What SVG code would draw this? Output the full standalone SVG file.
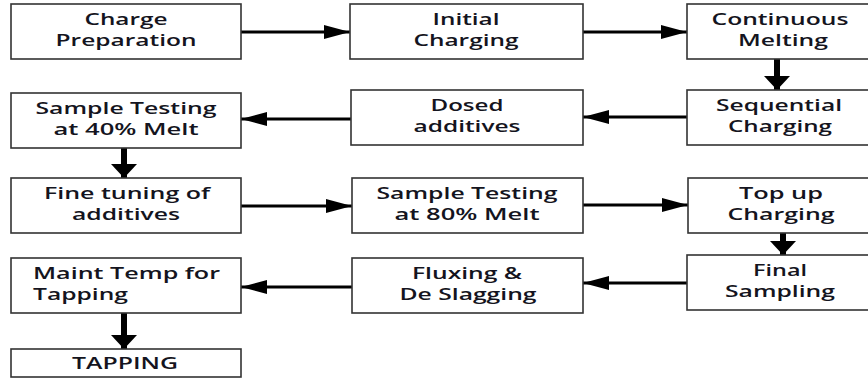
<svg xmlns="http://www.w3.org/2000/svg" width="868" height="383" viewBox="0 0 868 383">
<defs>
<style>
.box{fill:#fff;stroke:#333;stroke-width:1.6}
.t{font-family:"Open Sans","Liberation Sans",sans-serif;font-size:17px;font-weight:600;fill:#141420;text-anchor:middle}
.s{text-anchor:start}
.h{stroke:#000;stroke-width:3;fill:none}
.v{stroke:#000;stroke-width:6;fill:none}
</style>
<marker id="ah" markerUnits="userSpaceOnUse" markerWidth="26" markerHeight="14" refX="26" refY="7" orient="auto">
<path d="M0,0 L26,7 L0,14 Z" fill="#000"/>
</marker>
<marker id="av" markerUnits="userSpaceOnUse" markerWidth="14" markerHeight="26" refX="14" refY="13" orient="auto">
<path d="M0,0 L14,13 L0,26 Z" fill="#000"/>
</marker>
</defs>
<rect width="868" height="383" fill="#fff"/>
<g id="connectors">
<line class="h" x1="241" y1="32" x2="350" y2="32" marker-end="url(#ah)"/>
<line class="h" x1="583" y1="32" x2="687" y2="32" marker-end="url(#ah)"/>
<line class="v" x1="777" y1="59" x2="777" y2="90" marker-end="url(#av)"/>
<line class="h" x1="687" y1="117" x2="583" y2="117" marker-end="url(#ah)"/>
<line class="h" x1="351" y1="119" x2="241" y2="119" marker-end="url(#ah)"/>
<line class="v" x1="124" y1="148" x2="124" y2="178" marker-end="url(#av)"/>
<line class="h" x1="241" y1="206" x2="352" y2="206" marker-end="url(#ah)"/>
<line class="h" x1="583" y1="205" x2="688" y2="205" marker-end="url(#ah)"/>
<line class="v" x1="783" y1="233" x2="783" y2="255" marker-end="url(#av)"/>
<line class="h" x1="687" y1="283" x2="583" y2="283" marker-end="url(#ah)"/>
<line class="h" x1="352" y1="287" x2="241" y2="287" marker-end="url(#ah)"/>
<line class="v" x1="124" y1="313" x2="124" y2="349" marker-end="url(#av)"/>
</g>
<g id="charge-preparation">
<rect class="box" x="11" y="4" width="230" height="55"/>
<text class="t" x="126" y="25" textLength="83" lengthAdjust="spacingAndGlyphs">Charge</text>
<text class="t" x="126" y="46" textLength="141" lengthAdjust="spacingAndGlyphs">Preparation</text>
</g>
<g id="initial-charging">
<rect class="box" x="350" y="4" width="233" height="55"/>
<text class="t" x="466" y="25" textLength="67" lengthAdjust="spacingAndGlyphs">Initial</text>
<text class="t" x="466" y="46" textLength="105" lengthAdjust="spacingAndGlyphs">Charging</text>
</g>
<g id="continuous-melting">
<rect class="box" x="687" y="4" width="186" height="55"/>
<text class="t" x="780" y="25" textLength="137" lengthAdjust="spacingAndGlyphs">Continuous</text>
<text class="t" x="783" y="46" textLength="90" lengthAdjust="spacingAndGlyphs">Melting</text>
</g>
<g id="sequential-charging">
<rect class="box" x="687" y="90" width="186" height="55"/>
<text class="t" x="779" y="111" textLength="126" lengthAdjust="spacingAndGlyphs">Sequential</text>
<text class="t" x="780" y="132" textLength="104" lengthAdjust="spacingAndGlyphs">Charging</text>
</g>
<g id="dosed-additives">
<rect class="box" x="351" y="90" width="232" height="55"/>
<text class="t" x="467" y="111" textLength="73" lengthAdjust="spacingAndGlyphs">Dosed</text>
<text class="t" x="467" y="132" textLength="107" lengthAdjust="spacingAndGlyphs">additives</text>
</g>
<g id="sample-testing-40">
<rect class="box" x="11" y="93" width="230" height="55"/>
<text class="t" x="126" y="114" textLength="181" lengthAdjust="spacingAndGlyphs">Sample Testing</text>
<text class="t" x="126" y="135" textLength="145" lengthAdjust="spacingAndGlyphs">at 40% Melt</text>
</g>
<g id="fine-tuning">
<rect class="box" x="11" y="178" width="230" height="55"/>
<text class="t" x="127" y="199" textLength="166" lengthAdjust="spacingAndGlyphs">Fine tuning of</text>
<text class="t" x="126" y="220" textLength="108" lengthAdjust="spacingAndGlyphs">additives</text>
</g>
<g id="sample-testing-80">
<rect class="box" x="352" y="178" width="231" height="55"/>
<text class="t" x="467" y="199" textLength="181" lengthAdjust="spacingAndGlyphs">Sample Testing</text>
<text class="t" x="467" y="220" textLength="145" lengthAdjust="spacingAndGlyphs">at 80% Melt</text>
</g>
<g id="top-up-charging">
<rect class="box" x="688" y="178" width="186" height="55"/>
<text class="t" x="781" y="199" textLength="84" lengthAdjust="spacingAndGlyphs">Top up</text>
<text class="t" x="781" y="220" textLength="107" lengthAdjust="spacingAndGlyphs">Charging</text>
</g>
<g id="final-sampling">
<rect class="box" x="687" y="255" width="186" height="55"/>
<text class="t" x="780" y="276" textLength="54" lengthAdjust="spacingAndGlyphs">Final</text>
<text class="t" x="780" y="297" textLength="110" lengthAdjust="spacingAndGlyphs">Sampling</text>
</g>
<g id="fluxing-deslagging">
<rect class="box" x="352" y="258" width="231" height="55"/>
<text class="t" x="467" y="279" textLength="110" lengthAdjust="spacingAndGlyphs">Fluxing &amp;</text>
<text class="t" x="468" y="300" textLength="137" lengthAdjust="spacingAndGlyphs">De Slagging</text>
</g>
<g id="maint-temp">
<rect class="box" x="11" y="258" width="230" height="55"/>
<text class="t s" x="33" y="279" textLength="187" lengthAdjust="spacingAndGlyphs">Maint Temp for</text>
<text class="t s" x="33" y="300" textLength="95" lengthAdjust="spacingAndGlyphs">Tapping</text>
</g>
<g id="tapping">
<rect class="box" x="11" y="349" width="230" height="28"/>
<text class="t" x="125" y="369" textLength="106" lengthAdjust="spacingAndGlyphs">TAPPING</text>
</g>
</svg>
